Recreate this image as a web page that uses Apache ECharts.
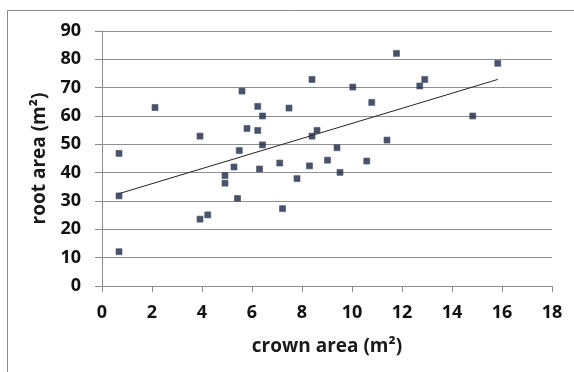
<!DOCTYPE html>
<html><head><meta charset="utf-8">
<script src="https://cdn.jsdelivr.net/npm/echarts@6/dist/echarts.min.js"></script>
<style>html,body{margin:0;padding:0;background:#fff}#c{width:574px;height:372px}</style>
</head><body><div id="c"></div>
<script>
const crownArea = [0.68,0.68,0.68,2.12,3.92,3.92,4.23,4.92,4.92,5.28,5.42,5.49,5.6,5.8,6.23,6.42,6.23,6.42,6.3,7.11,7.22,7.48,7.8,8.3,8.4,8.4,8.6,9.02,9.4,9.52,10.03,10.59,10.79,11.4,11.78,12.71,12.91,14.83,15.83];
const rootArea  = [46.8,31.8,12.1,63.0,52.9,23.6,25.1,39.0,36.3,42.0,30.9,47.8,68.8,55.6,63.4,60.0,54.9,49.8,41.3,43.4,27.3,62.8,37.9,42.4,72.9,52.9,54.9,44.4,48.8,40.1,70.2,44.1,64.8,51.5,82.1,70.6,72.9,60.0,78.6];
const trendX = [0.68, 15.83];
const trendY = [32.6, 72.9];
const font = '"Open Sans", "Liberation Sans", sans-serif';
const chart = echarts.init(document.getElementById('c'), null, {renderer:'canvas'});
chart.setOption({
  animation:false,
  graphic:[{type:'rect',shape:{x:7.5,y:10.5,width:700,height:500},style:{fill:'none',stroke:'#8a8a8a',lineWidth:1},silent:true,z:-1}],
  grid:{left:102,right:22,top:31,bottom:86},
  xAxis:{type:'value',min:0,max:18,interval:2,
    name:'crown area (m²)',nameLocation:'middle',nameGap:51,
    nameTextStyle:{fontFamily:font,fontWeight:'bold',fontSize:19,color:'#1a1a1a'},
    axisLine:{show:true,lineStyle:{color:'#8c8c8c'}},
    axisTick:{show:true,length:6,lineStyle:{color:'#8c8c8c'}},
    axisLabel:{fontFamily:font,fontWeight:'bold',fontSize:18,color:'#111',margin:18},
    splitLine:{show:false}},
  yAxis:{type:'value',min:0,max:90,interval:10,
    name:'root area (m²)',nameLocation:'middle',nameGap:46,nameRotate:90,
    nameTextStyle:{fontFamily:font,fontWeight:'bold',fontSize:19,color:'#1a1a1a'},
    axisLine:{show:true,lineStyle:{color:'#8c8c8c'}},
    axisTick:{show:true,length:7,lineStyle:{color:'#8c8c8c'}},
    axisLabel:{fontFamily:font,fontWeight:'bold',fontSize:18,color:'#111',margin:21},
    splitLine:{show:true,lineStyle:{color:'#8f8f8f',width:1}}},
  series:[
    {type:'scatter',symbol:'rect',symbolSize:6,
      itemStyle:{color:'#1b2742',borderColor:'#4d5a72',borderWidth:0.8},
      data:crownArea.map((x,i)=>[x,rootArea[i]]),z:3},
    {type:'line',symbol:'none',lineStyle:{color:'#222',width:1},
      data:trendX.map((x,i)=>[x,trendY[i]]),z:2}
  ]
});
</script></body></html>
